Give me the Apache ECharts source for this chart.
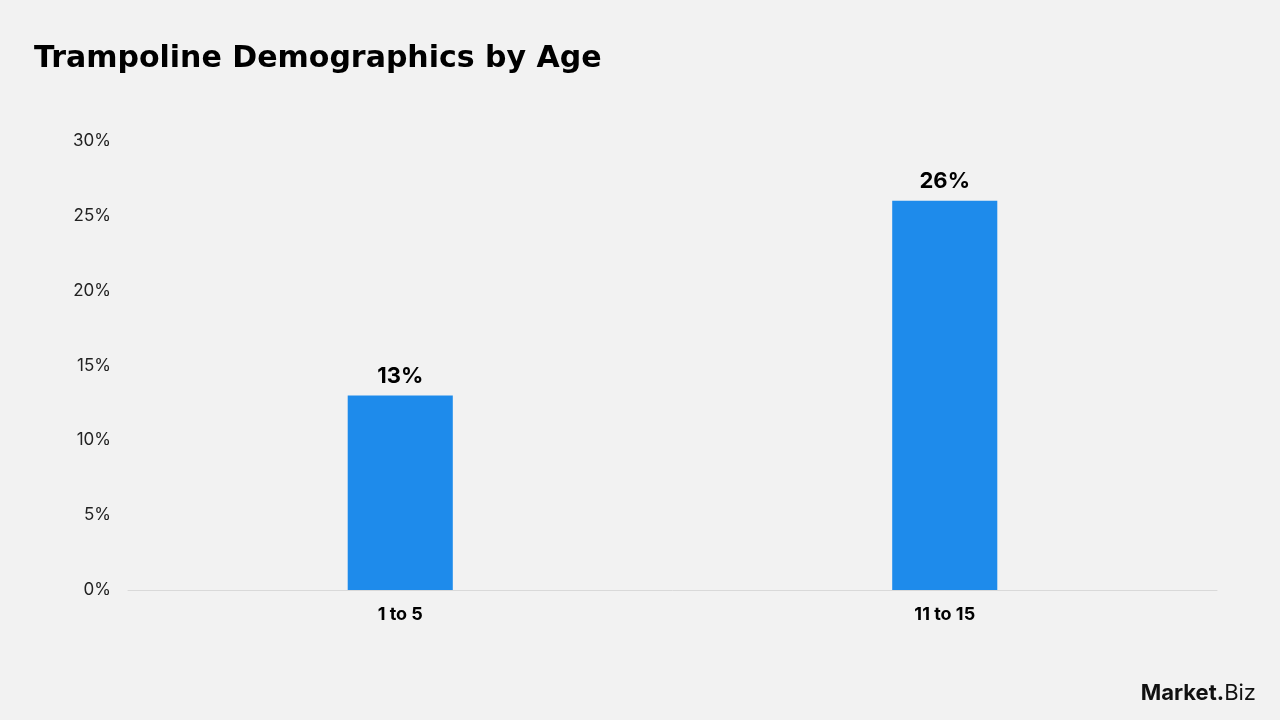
<!DOCTYPE html>
<html>
<head>
<meta charset="utf-8">
<title>Trampoline Demographics by Age</title>
<script src="https://cdn.jsdelivr.net/npm/echarts@6/dist/echarts.min.js"></script>
<style>
  html, body { margin: 0; padding: 0; background: #f2f2f2; }
  #chart { width: 1280px; height: 720px; }
</style>
</head>
<body>
<div id="chart"></div>
<script>
// data
var ageGroups = ['1 to 5', '11 to 15'];
var sharePct = [13, 26];
var yTicks = [0, 5, 10, 15, 20, 25, 30];

var FONT = 'Inter, "Open Sans", sans-serif';
var WIDE = '"DejaVu Sans", Inter, sans-serif';

var myChart = echarts.init(document.getElementById('chart'));
var option = {
    backgroundColor: '#f2f2f2',
    title: {
        text: 'Trampoline Demographics by Age',
        left: 34,
        top: 44,
        padding: 0,
        textStyle: {
            fontFamily: WIDE,
            fontSize: 30,
            fontWeight: 'bold',
            color: '#000'
        }
    },
    grid: {
        left: 128,
        right: 63,
        top: 141,
        bottom: 130
    },
    xAxis: {
        type: 'category',
        data: ageGroups,
        axisTick: { show: false },
        axisLine: { lineStyle: { color: '#d9d9d9', width: 1 } },
        axisLabel: {
            margin: 16,
            fontFamily: FONT,
            fontSize: 18,
            fontWeight: 'bold',
            color: '#000'
        }
    },
    yAxis: {
        type: 'value',
        min: yTicks[0],
        max: yTicks[yTicks.length - 1],
        interval: 5,
        splitLine: { show: false },
        axisLine: { show: false },
        axisTick: { show: false },
        axisLabel: {
            margin: 17,
            fontFamily: FONT,
            fontSize: 17,
            color: '#222',
            formatter: '{value}%'
        }
    },
    series: [
        {
            type: 'bar',
            data: sharePct,
            barWidth: '19.3%',
            itemStyle: { color: '#1e8beb' },
            label: {
                show: true,
                position: 'top',
                distance: 8,
                formatter: '{c}%',
                fontFamily: FONT,
                fontSize: 22,
                fontWeight: 'bold',
                color: '#000'
            }
        }
    ],
    graphic: [
        {
            type: 'text',
            right: 24,
            bottom: 16,
            style: {
                text: '{b|Market}{b|.}{n|Biz}',
                rich: {
                    b: { fontFamily: FONT, fontSize: 22, fontWeight: 'bold', fill: '#111' },
                    n: { fontFamily: FONT, fontSize: 22, fill: '#111' }
                }
            }
        }
    ]
};
myChart.setOption(option);
</script>
</body>
</html>
